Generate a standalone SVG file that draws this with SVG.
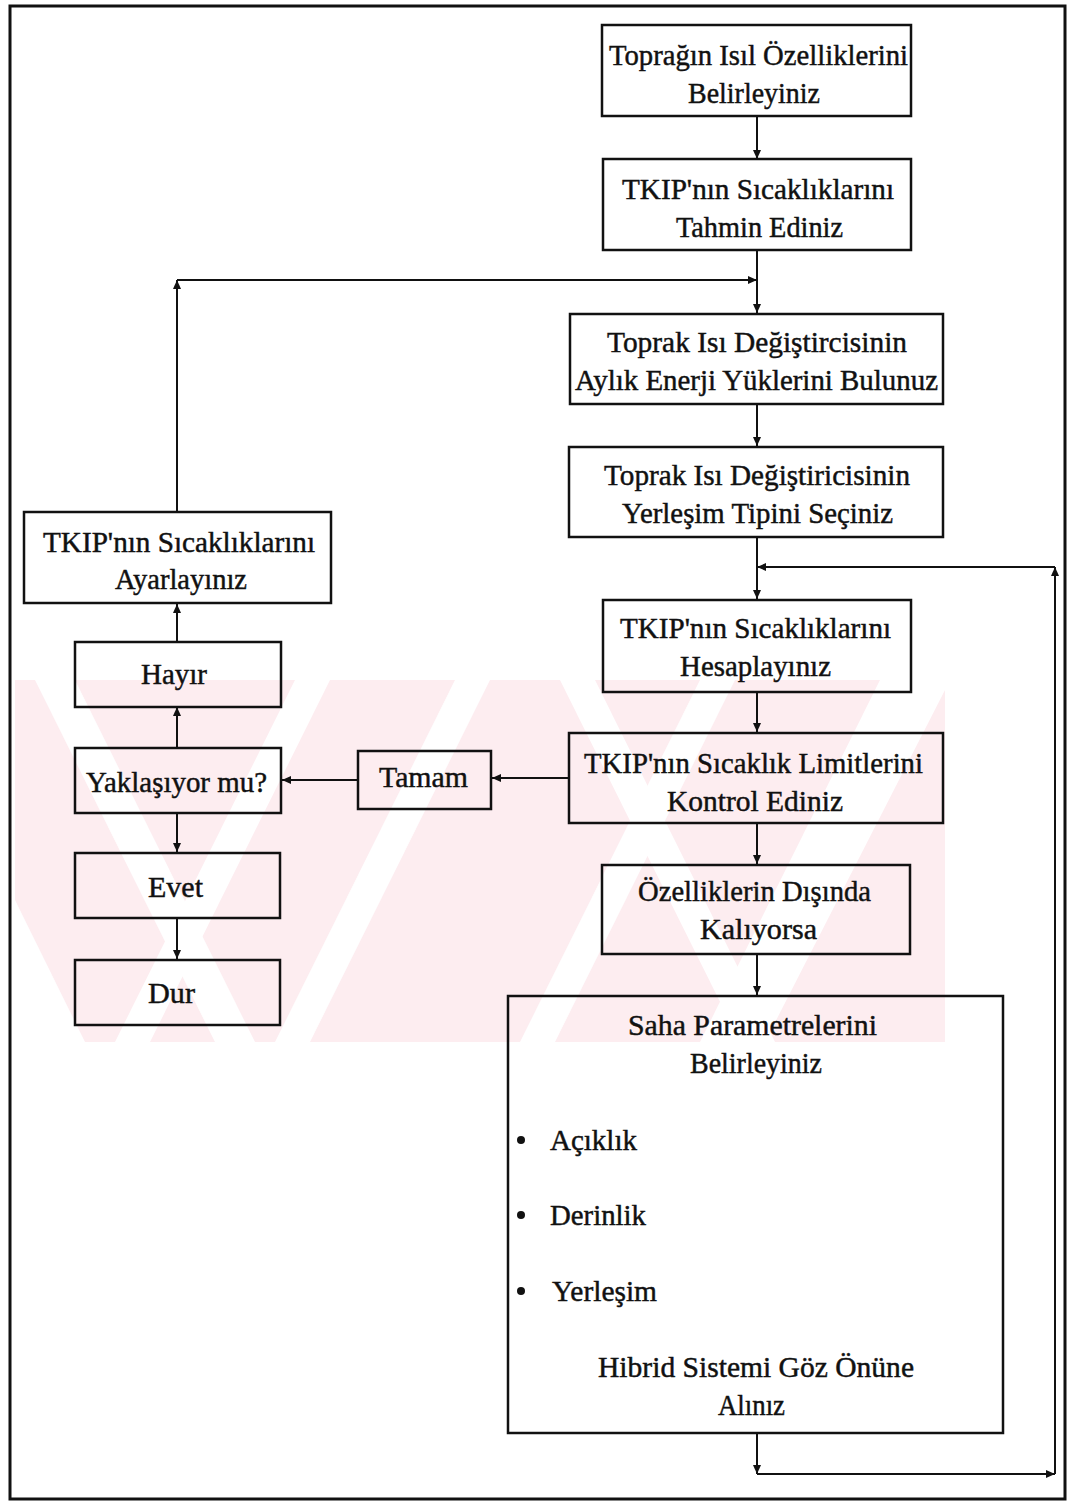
<svg xmlns="http://www.w3.org/2000/svg" width="1077" height="1509" viewBox="0 0 1077 1509">
  <defs>
    <marker id="arrow" markerUnits="userSpaceOnUse" markerWidth="10" markerHeight="10" viewBox="0 0 10 10" refX="9" refY="5" orient="auto">
      <path d="M0,1 L9,5 L0,9 Z" fill="#111"/>
    </marker>
    <style>
      .box { fill: none; stroke: #111; stroke-width: 2.5; }
      .lbl { font-family: "Liberation Serif", "Times New Roman", serif; font-size: 29px; fill: #111; stroke: #111; stroke-width: 0.45; }
      .wire { fill: none; stroke: #111; stroke-width: 2; }
      .arr { marker-end: url(#arrow); }
      .wm { fill: #fdedf0; }
      .gap { fill: #fff; }
    </style>
  </defs>

  <rect width="1077" height="1509" fill="#fff"/>

  <!-- faint background stripe mark -->
  <g id="backdrop-mark">
    <rect class="wm" x="15" y="680" width="930" height="362"/>
    <polygon class="gap" points="35,680 75,680 255,1042 215,1042"/>
    <polygon class="gap" points="295,680 330,680 150,1042 115,1042"/>
    <polygon class="gap" points="455,680 490,680 310,1042 275,1042"/>
    <polygon class="gap" points="560,680 595,680 775,1042 740,1042"/>
    <polygon class="gap" points="700,680 735,680 555,1042 520,1042"/>
    <polygon class="gap" points="880,680 945,680 945,690 765,1042 700,1042"/>
    <polygon class="gap" points="15,900 15,1042 85,1042"/>
  </g>

  <!-- page frame -->
  <rect x="10" y="6" width="1055" height="1493" fill="none" stroke="#111" stroke-width="3"/>

  <!-- connectors -->
  <g id="connectors">
    <line class="wire arr" x1="757" y1="116" x2="757" y2="159"/>
    <line class="wire arr" x1="757" y1="250" x2="757" y2="313"/>
    <line class="wire arr" x1="757" y1="404" x2="757" y2="446"/>
    <line class="wire arr" x1="757" y1="537" x2="757" y2="599"/>
    <line class="wire arr" x1="757" y1="692" x2="757" y2="732"/>
    <line class="wire arr" x1="757" y1="823" x2="757" y2="864"/>
    <line class="wire arr" x1="757" y1="954" x2="757" y2="995"/>
    <!-- adjust loop -->
    <line class="wire arr" x1="177" y1="512" x2="177" y2="280"/>
    <line class="wire arr" x1="177" y1="280" x2="757" y2="280"/>
    <!-- decision branch -->
    <line class="wire arr" x1="569" y1="778" x2="492" y2="778"/>
    <line class="wire arr" x1="358" y1="780" x2="282" y2="780"/>
    <line class="wire arr" x1="177" y1="748" x2="177" y2="707"/>
    <line class="wire arr" x1="177" y1="642" x2="177" y2="604"/>
    <line class="wire arr" x1="177" y1="813" x2="177" y2="852"/>
    <line class="wire arr" x1="177" y1="918" x2="177" y2="959"/>
    <!-- return loop -->
    <line class="wire arr" x1="757" y1="1433" x2="757" y2="1474"/>
    <line class="wire arr" x1="757" y1="1474" x2="1055" y2="1474"/>
    <line class="wire arr" x1="1055" y1="1474" x2="1055" y2="567"/>
    <line class="wire arr" x1="1055" y1="567" x2="757" y2="567"/>
  </g>

  <g id="n-toprak-isil">
    <rect class="box" x="602" y="25" width="309" height="91"/>
    <text class="lbl" x="609" y="65" textLength="299" lengthAdjust="spacingAndGlyphs">Toprağın Isıl Özelliklerini</text>
    <text class="lbl" x="688" y="103" textLength="132" lengthAdjust="spacingAndGlyphs">Belirleyiniz</text>
  </g>

  <g id="n-tahmin">
    <rect class="box" x="603" y="159" width="308" height="91"/>
    <text class="lbl" x="622" y="199" textLength="272" lengthAdjust="spacingAndGlyphs">TKIP'nın Sıcaklıklarını</text>
    <text class="lbl" x="676" y="237" textLength="167" lengthAdjust="spacingAndGlyphs">Tahmin Ediniz</text>
  </g>

  <g id="n-enerji">
    <rect class="box" x="570" y="314" width="373" height="90"/>
    <text class="lbl" x="607" y="352" textLength="300" lengthAdjust="spacingAndGlyphs">Toprak Isı Değiştircisinin</text>
    <text class="lbl" x="575" y="390" textLength="363" lengthAdjust="spacingAndGlyphs">Aylık Enerji Yüklerini Bulunuz</text>
  </g>

  <g id="n-yerlesim-tipi">
    <rect class="box" x="569" y="447" width="374" height="90"/>
    <text class="lbl" x="604" y="485" textLength="306" lengthAdjust="spacingAndGlyphs">Toprak Isı Değiştiricisinin</text>
    <text class="lbl" x="622" y="523" textLength="271" lengthAdjust="spacingAndGlyphs">Yerleşim Tipini Seçiniz</text>
  </g>

  <g id="n-hesapla">
    <rect class="box" x="603" y="600" width="308" height="92"/>
    <text class="lbl" x="620" y="638" textLength="271" lengthAdjust="spacingAndGlyphs">TKIP'nın Sıcaklıklarını</text>
    <text class="lbl" x="680" y="676" textLength="151" lengthAdjust="spacingAndGlyphs">Hesaplayınız</text>
  </g>

  <g id="n-kontrol">
    <rect class="box" x="569" y="733" width="374" height="90"/>
    <text class="lbl" x="584" y="773" textLength="339" lengthAdjust="spacingAndGlyphs">TKIP'nın Sıcaklık Limitlerini</text>
    <text class="lbl" x="667" y="811" textLength="176" lengthAdjust="spacingAndGlyphs">Kontrol Ediniz</text>
  </g>

  <g id="n-disinda">
    <rect class="box" x="602" y="865" width="308" height="89"/>
    <text class="lbl" x="638" y="901" textLength="233" lengthAdjust="spacingAndGlyphs">Özelliklerin Dışında</text>
    <text class="lbl" x="700" y="939" textLength="117" lengthAdjust="spacingAndGlyphs">Kalıyorsa</text>
  </g>

  <g id="n-saha">
    <rect class="box" x="508" y="996" width="495" height="437"/>
    <text class="lbl" x="628" y="1035" textLength="249" lengthAdjust="spacingAndGlyphs">Saha Parametrelerini</text>
    <text class="lbl" x="690" y="1073" textLength="132" lengthAdjust="spacingAndGlyphs">Belirleyiniz</text>
    <circle cx="521" cy="1140" r="4" fill="#111"/>
    <text class="lbl" x="550" y="1150" textLength="87" lengthAdjust="spacingAndGlyphs">Açıklık</text>
    <circle cx="521" cy="1215" r="4" fill="#111"/>
    <text class="lbl" x="550" y="1225" textLength="96" lengthAdjust="spacingAndGlyphs">Derinlik</text>
    <circle cx="521" cy="1291" r="4" fill="#111"/>
    <text class="lbl" x="552" y="1301" textLength="105" lengthAdjust="spacingAndGlyphs">Yerleşim</text>
    <text class="lbl" x="598" y="1377" textLength="316" lengthAdjust="spacingAndGlyphs">Hibrid Sistemi Göz Önüne</text>
    <text class="lbl" x="718" y="1415" textLength="67" lengthAdjust="spacingAndGlyphs">Alınız</text>
  </g>

  <g id="n-ayarla">
    <rect class="box" x="24" y="512" width="307" height="91"/>
    <text class="lbl" x="43" y="552" textLength="272" lengthAdjust="spacingAndGlyphs">TKIP'nın Sıcaklıklarını</text>
    <text class="lbl" x="115" y="589" textLength="132" lengthAdjust="spacingAndGlyphs">Ayarlayınız</text>
  </g>

  <g id="n-hayir">
    <rect class="box" x="75" y="642" width="206" height="65"/>
    <text class="lbl" x="141" y="684" textLength="66" lengthAdjust="spacingAndGlyphs">Hayır</text>
  </g>

  <g id="n-yaklasiyor">
    <rect class="box" x="75" y="748" width="206" height="65"/>
    <text class="lbl" x="86" y="792" textLength="181" lengthAdjust="spacingAndGlyphs">Yaklaşıyor mu?</text>
  </g>

  <g id="n-tamam">
    <rect class="box" x="358" y="751" width="133" height="58"/>
    <text class="lbl" x="379" y="787" textLength="89" lengthAdjust="spacingAndGlyphs">Tamam</text>
  </g>

  <g id="n-evet">
    <rect class="box" x="75" y="853" width="205" height="65"/>
    <text class="lbl" x="148" y="897" textLength="55" lengthAdjust="spacingAndGlyphs">Evet</text>
  </g>

  <g id="n-dur">
    <rect class="box" x="75" y="960" width="205" height="65"/>
    <text class="lbl" x="148" y="1003" textLength="47" lengthAdjust="spacingAndGlyphs">Dur</text>
  </g>
</svg>
